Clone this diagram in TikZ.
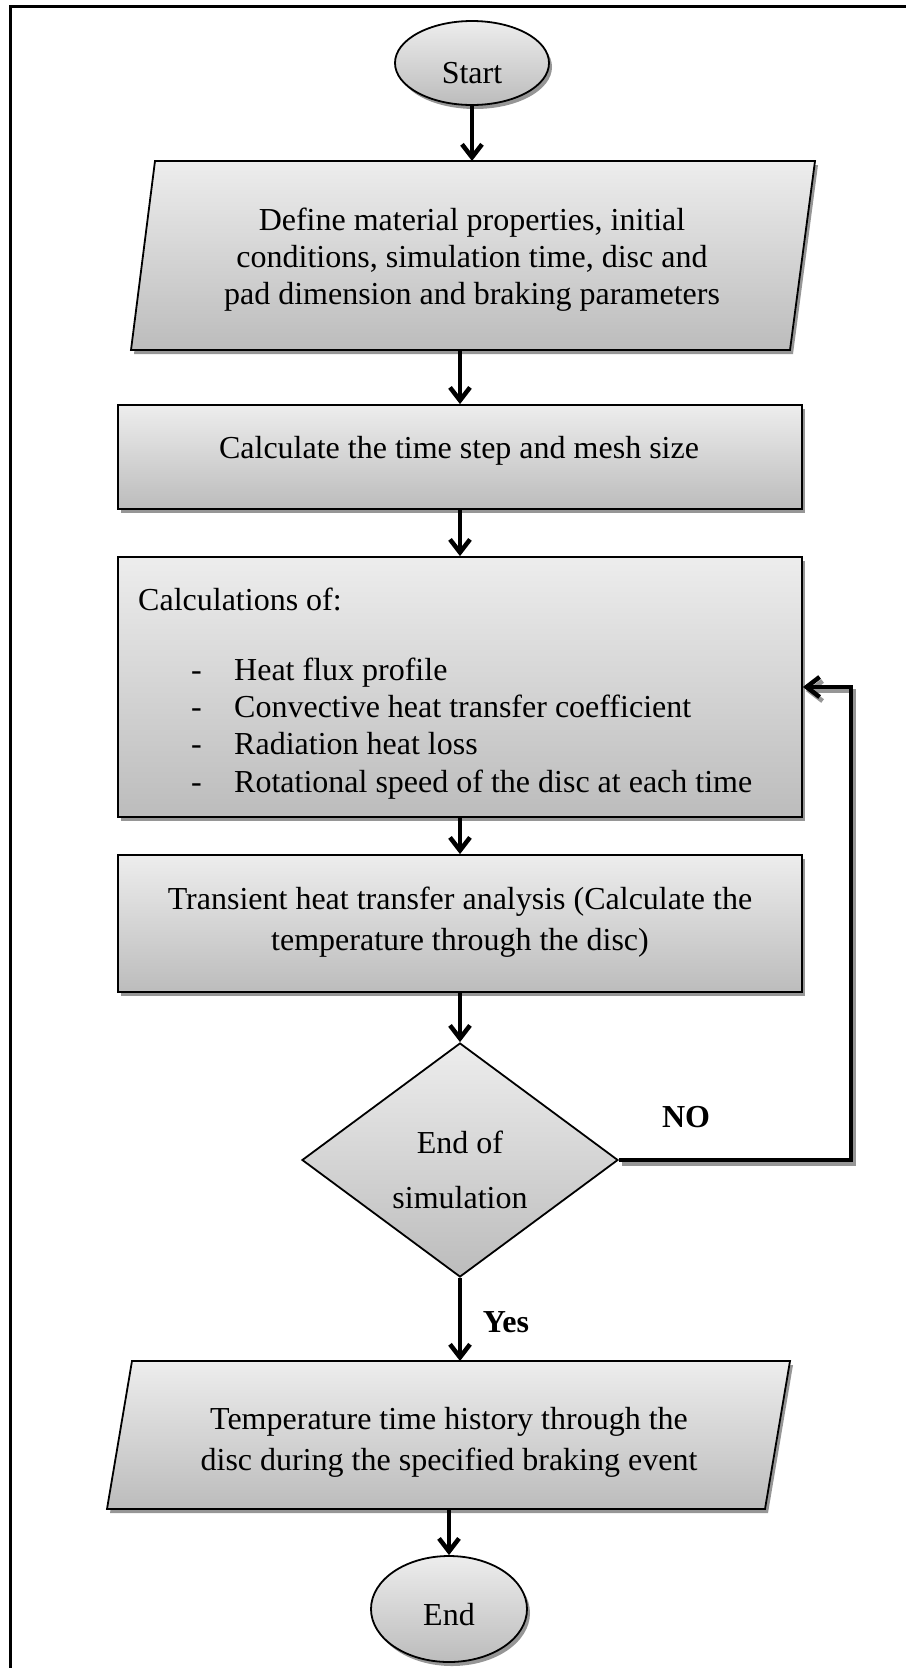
\documentclass[tikz,border=0pt]{standalone}
\usepackage{fontspec}
\setmainfont{Liberation Serif}
\usetikzlibrary{shapes.geometric,shadows,arrows.meta}
\definecolor{gtop}{RGB}{237,237,237}
\definecolor{gbot}{RGB}{188,188,188}
\definecolor{shd}{RGB}{150,150,150}
\begin{document}
\begin{tikzpicture}[x=1pt,y=-1pt,
  shadefill/.style={top color=gtop,bottom color=gbot,draw=black,line width=1.8pt},
  shad/.style={drop shadow={shadow xshift=3pt,shadow yshift=-4pt,fill=shd,opacity=1}},
  boxn/.style={shadefill,shad,rectangle,inner sep=0pt},
  term/.style={shadefill,shad,ellipse,inner sep=0pt},
  txt/.style={font=\fontsize{32}{37}\selectfont,align=center,inner sep=0pt},
  ltxt/.style={font=\fontsize{32}{37}\selectfont,inner sep=0pt,anchor=base west},
  arr/.style={line width=4.5pt,-{Straight Barb[length=13pt,width=20pt]}},
  lbl/.style={font=\fontsize{32}{37}\selectfont\bfseries,inner sep=0pt}
]
\useasboundingbox (0,0) rectangle (905,1668);
% frame
\draw[line width=3pt] (10.5,1700) -- (10.5,6) -- (940,6);

% Start
\node[term,minimum width=154pt,minimum height=84pt] (start) at (472,63) {};
\node[txt] (startt) at (472,73) {Start};

% Parallelogram 1
\path[shadefill,shad] (155,161) -- (815,161) -- (790,350) -- (131,350) -- cycle;
\coordinate (p1n) at (472,161);
\coordinate (p1s) at (460,350);
\node[txt] (p1) at (472,260) {Define material properties, initial\\conditions, simulation time, disc and\\pad dimension and braking parameters};

% Rect 1
\node[boxn,minimum width=684pt,minimum height=104pt] (r1) at (460,457) {};
\node[txt] (r1t) at (459,451) {Calculate the time step and mesh size};

% Rect 2
\node[boxn,minimum width=684pt,minimum height=260pt] (r2) at (460,687) {};
\node[ltxt] (r2h) at (138,610) {Calculations of:};
\node[ltxt] (d1) at (191,680) {-};
\node[ltxt] (i1) at (234,680) {Heat flux profile};
\node[ltxt] (d2) at (191,717) {-};
\node[ltxt] (i2) at (234,717) {Convective heat transfer coefficient};
\node[ltxt] (d3) at (191,754) {-};
\node[ltxt] (i3) at (234,754) {Radiation heat loss};
\node[ltxt] (d4) at (191,792) {-};
\node[ltxt] (i4) at (234,792) {Rotational speed of the disc at each time};

% Rect 3
\node[boxn,minimum width=684pt,minimum height=137pt] (r3) at (460,923.5) {};
\node[txt,font=\fontsize{32}{41}\selectfont] (r3t) at (460,922) {Transient heat transfer analysis (Calculate the\\temperature through the disc)};

% Diamond
\node[diamond,shadefill,minimum width=316pt,minimum height=234pt,inner sep=0pt] (dia) at (460,1160) {};
\node[txt,font=\fontsize{32}{55}\selectfont] (diat) at (460,1170) {End of\\simulation};

% Parallelogram 2
\path[shadefill,shad] (132,1361) -- (790,1361) -- (765,1509) -- (107,1509) -- cycle;
\coordinate (p2n) at (460,1361);
\coordinate (p2s) at (449,1509);
\node[txt,font=\fontsize{32}{41}\selectfont] (p2) at (449,1442) {Temperature time history through the\\disc during the specified braking event};

% End
\node[term,minimum width=156pt,minimum height=106pt] (endn) at (449,1609) {};
\node[txt] (endt) at (449,1615) {End};

% connectors
\draw[arr] (start) -- (p1n);
\draw[arr] (p1s) -- (r1);
\draw[arr] (r1) -- (r2);
\draw[arr] (r2) -- (r3);
\draw[arr] (r3) -- (dia);
\draw[arr] (dia) -- (p2n);
\draw[arr] (p2s) -- (endn);

\coordinate (lc) at (851,1160);
\draw[arr,draw=shd,transform canvas={shift={(3pt,-4pt)}}] (dia.east) -- (lc) |- (r2.east);
\draw[arr] (dia.east) -- (lc) |- (r2.east);

\node[lbl] (no) at (686,1117) {NO};
\node[lbl] (yes) at (506,1322) {Yes};
\end{tikzpicture}
\end{document}
